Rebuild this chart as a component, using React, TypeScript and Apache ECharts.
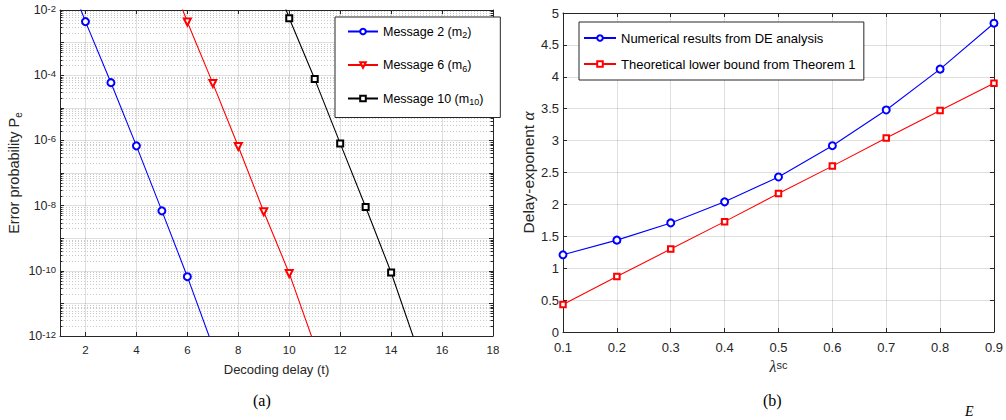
import React, { useEffect, useRef } from 'react';
import * as echarts from 'echarts';

// ---- Panel (a): error probability vs decoding delay ----
const delaysM2 = [1, 2, 3, 4, 5, 6, 7];
const peM2 = [4.4e-1, 4.4e-3, 5.9e-5, 6.8e-7, 6.9e-9, 6.6e-11, 4.8e-13];
const delaysM6 = [5, 6, 7, 8, 9, 10, 11];
const peM6 = [4.8e-1, 4.3e-3, 5.6e-5, 6.5e-7, 6.5e-9, 8.3e-11, 5.2e-13];
const delaysM10 = [9, 10, 11, 12, 13, 14, 15];
const peM10 = [7e-1, 5.6e-3, 7.6e-5, 8.1e-7, 9.1e-9, 8.9e-11, 4.8e-13];
const delayTicks = [2, 4, 6, 8, 10, 12, 14, 16, 18];
const decadeExponents = [-12, -11, -10, -9, -8, -7, -6, -5, -4, -3];
const minorMantissas = [2, 3, 4, 5, 6, 7, 8, 9];
const legendA = ['Message 2 (m2)', 'Message 6 (m6)', 'Message 10 (m10)'];
const legendASub = ['2', '6', '10'];
const legendAMain = ['Message 2 (m', 'Message 6 (m', 'Message 10 (m'];

// ---- Panel (b): delay exponent vs lambda^sc ----
const lambdaSC = [0.1, 0.2, 0.3, 0.4, 0.5, 0.6, 0.7, 0.8, 0.9];
const alphaDE = [1.21, 1.44, 1.71, 2.04, 2.43, 2.92, 3.48, 4.12, 4.84];
const alphaLB = [0.43, 0.87, 1.3, 1.73, 2.17, 2.6, 3.04, 3.47, 3.9];
const legendB = ['Numerical results from DE analysis', 'Theoretical lower bound from Theorem 1'];

const SANS = '"Liberation Sans", Arial, Helvetica, sans-serif';
const SERIF = '"Liberation Serif", "Times New Roman", serif';
const AX = '#262626';
const GRID = 'rgba(38,38,38,0.15)';
const MINOR = 'rgba(38,38,38,0.25)';

function pairs(xs: number[], ys: number[]) {
  return xs.map((x, i) => [x, ys[i]]);
}

export default function App() {
  const ref = useRef<HTMLDivElement>(null);
  useEffect(() => {
    if (!ref.current) return;
    const chart = echarts.init(ref.current, undefined, { renderer: 'svg' });

    const minorVals: number[] = [];
    decadeExponents.forEach((k) => minorMantissas.forEach((m) => minorVals.push(m * Math.pow(10, k))));

    const supRich = {
      b: { fontSize: 12.5, fontFamily: SANS, color: AX, lineHeight: 13, verticalAlign: 'bottom' },
      s: { fontSize: 9.5, fontFamily: SANS, color: AX, lineHeight: 9, verticalAlign: 'top', padding: [0, 0, 8, 0] },
    };
    const subRich = {
      n: { fontSize: 12.5, fontFamily: SANS, color: '#000', lineHeight: 16 },
      u: { fontSize: 9, fontFamily: SANS, color: '#000', lineHeight: 9, verticalAlign: 'bottom' },
    };

    const lineA = (name: string, xs: number[], ys: number[], color: string, symbol: string, size: number, rot = 0) => ({
      type: 'line',
      name,
      xAxisIndex: 0,
      yAxisIndex: 0,
      data: pairs(xs, ys),
      symbol,
      symbolSize: size,
      symbolRotate: rot,
      lineStyle: { color, width: 1.1 },
      itemStyle: { color, borderColor: color, borderWidth: 1 },
      clip: true,
      z: 3,
    });

    const minorGridSeries = {
      type: 'custom',
      name: 'minor-grid',
      xAxisIndex: 0,
      yAxisIndex: 0,
      silent: true,
      z: 1,
      data: minorVals.map((v) => [1, v]),
      encode: { x: 0, y: 1 },
      renderItem: (params: any, api: any) => {
        const cs = params.coordSys;
        const y = Math.round(api.coord([api.value(0), api.value(1)])[1]) + 0.5;
        return {
          type: 'group',
          children: [
            { type: 'line', shape: { x1: cs.x, y1: y, x2: cs.x + cs.width, y2: y }, style: { stroke: MINOR, lineDash: [1, 2], lineWidth: 1 } },
            { type: 'line', shape: { x1: cs.x, y1: y, x2: cs.x + 2.5, y2: y }, style: { stroke: AX, lineWidth: 1 } },
            { type: 'line', shape: { x1: cs.x + cs.width - 2.5, y1: y, x2: cs.x + cs.width, y2: y }, style: { stroke: AX, lineWidth: 1 } },
          ],
        };
      },
    };

    const option: any = {
      animation: false,
      backgroundColor: '#fff',
      grid: [
        { left: 60, top: 10, width: 433, height: 326 },
        { left: 563, top: 13, width: 435, height: 319 },
      ],
      xAxis: [
        {
          gridIndex: 0, type: 'value', min: 1, max: 18, position: 'bottom',
          axisLine: { onZero: false, lineStyle: { color: AX, width: 1 } },
          axisTick: { inside: true, length: 4, customValues: delayTicks, lineStyle: { color: AX } },
          axisLabel: { customValues: delayTicks, fontSize: 11.5, fontFamily: SANS, color: AX, margin: 8 },
          splitLine: { show: true, lineStyle: { color: GRID, width: 1 } },
          name: 'Decoding delay (t)', nameLocation: 'middle', nameGap: 27,
          nameTextStyle: { fontSize: 13, fontFamily: SANS, color: AX },
        },
        {
          gridIndex: 0, type: 'value', min: 1, max: 18, position: 'top',
          axisLine: { onZero: false, lineStyle: { color: AX, width: 1 } },
          axisTick: { inside: true, length: 4, customValues: delayTicks, lineStyle: { color: AX } },
          axisLabel: { show: false }, splitLine: { show: false },
        },
        {
          gridIndex: 1, type: 'value', min: 0.1, max: 0.9, interval: 0.1, position: 'bottom',
          axisLine: { onZero: false, lineStyle: { color: AX, width: 1 } },
          axisTick: { inside: true, length: 4, lineStyle: { color: AX } },
          axisLabel: { fontSize: 13, fontFamily: SANS, color: AX, margin: 9, formatter: (v: number) => v.toFixed(1) },
          splitLine: { show: true, lineStyle: { color: GRID, width: 1 } },
          name: '{l|λ}{s|sc}', nameLocation: 'middle', nameGap: 23,
          nameTextStyle: {
            rich: {
              l: { fontSize: 16, fontFamily: SERIF, fontStyle: 'italic', color: AX, lineHeight: 15, verticalAlign: 'bottom' },
              s: { fontSize: 11, fontFamily: SANS, color: AX, lineHeight: 11, verticalAlign: 'top', padding: [0, 0, 6, 0] },
            },
          },
        },
        {
          gridIndex: 1, type: 'value', min: 0.1, max: 0.9, interval: 0.1, position: 'top',
          axisLine: { onZero: false, lineStyle: { color: AX, width: 1 } },
          axisTick: { inside: true, length: 4, lineStyle: { color: AX } },
          axisLabel: { show: false }, splitLine: { show: false },
        },
      ],
      yAxis: [
        {
          gridIndex: 0, type: 'log', logBase: 10, min: 1e-12, max: 1e-2, interval: 1, position: 'left',
          axisLine: { onZero: false, lineStyle: { color: AX, width: 1 } },
          axisTick: { inside: true, length: 4, lineStyle: { color: AX } },
          axisLabel: {
            margin: 4, color: AX,
            formatter: (v: number) => {
              const e = Math.round(Math.log10(v));
              return e % 2 === 0 ? `{b|10}{s|${e}}` : '';
            },
            rich: supRich,
          },
          splitLine: { show: true, lineStyle: { color: GRID, width: 1 } },
          name: '{n|Error probability P}{u|e}', nameLocation: 'middle', nameGap: 37,
          nameTextStyle: {
            rich: {
              n: { fontSize: 14.5, fontFamily: SANS, color: AX, lineHeight: 18 },
              u: { fontSize: 10, fontFamily: SANS, color: AX, lineHeight: 10, verticalAlign: 'bottom' },
            },
          },
        },
        {
          gridIndex: 0, type: 'log', logBase: 10, min: 1e-12, max: 1e-2, interval: 1, position: 'right',
          axisLine: { onZero: false, lineStyle: { color: AX, width: 1 } },
          axisTick: { inside: true, length: 4, lineStyle: { color: AX } },
          axisLabel: { show: false }, splitLine: { show: false },
        },
        {
          gridIndex: 1, type: 'value', min: 0, max: 5, interval: 0.5, position: 'left',
          axisLine: { onZero: false, lineStyle: { color: AX, width: 1 } },
          axisTick: { inside: true, length: 4, lineStyle: { color: AX } },
          axisLabel: { fontSize: 13, fontFamily: SANS, color: AX, margin: 4 },
          splitLine: { show: true, lineStyle: { color: GRID, width: 1 } },
          name: '{t|Delay-exponent }{a|α}', nameLocation: 'middle', nameGap: 24,
          nameTextStyle: {
            rich: {
              t: { fontSize: 15.5, fontFamily: SANS, color: AX, lineHeight: 18 },
              a: { fontSize: 17, fontFamily: SERIF, fontStyle: 'italic', color: AX, lineHeight: 18 },
            },
          },
        },
        {
          gridIndex: 1, type: 'value', min: 0, max: 5, interval: 0.5, position: 'right',
          axisLine: { onZero: false, lineStyle: { color: AX, width: 1 } },
          axisTick: { inside: true, length: 4, lineStyle: { color: AX } },
          axisLabel: { show: false }, splitLine: { show: false },
        },
      ],
      legend: [
        {
          data: legendA, orient: 'vertical', left: 335, top: 17,
          padding: [8, 17, 11, 12], itemGap: 19, itemWidth: 30, itemHeight: 7,
          borderColor: AX, borderWidth: 1, backgroundColor: '#fff',
          textStyle: { fontSize: 12.5, fontFamily: SANS, color: '#000', rich: subRich },
          formatter: (name: string) => {
            const i = legendA.indexOf(name);
            return `{n|${legendAMain[i]}}{u|${legendASub[i]}}{n|)}`;
          },
        },
        {
          data: legendB, orient: 'vertical', left: 579, top: 22,
          padding: [8, 8, 8, 4], itemGap: 10, itemWidth: 32, itemHeight: 7,
          borderColor: AX, borderWidth: 1, backgroundColor: '#fff',
          textStyle: { fontSize: 13, fontFamily: SANS, color: '#000', lineHeight: 16 },
        },
      ],
      series: [
        minorGridSeries,
        lineA(legendA[0], delaysM2, peM2, '#0000ff', 'emptyCircle', 7),
        lineA(legendA[1], delaysM6, peM6, '#ff0000', 'emptyTriangle', 7, 180),
        lineA(legendA[2], delaysM10, peM10, '#000000', 'emptyRect', 6),
        {
          type: 'line', name: legendB[0], xAxisIndex: 2, yAxisIndex: 2,
          data: pairs(lambdaSC, alphaDE), symbol: 'emptyCircle', symbolSize: 7,
          lineStyle: { color: '#0000ff', width: 1.1 },
          itemStyle: { color: '#0000ff', borderColor: '#0000ff', borderWidth: 1.2 },
        },
        {
          type: 'line', name: legendB[1], xAxisIndex: 2, yAxisIndex: 2,
          data: pairs(lambdaSC, alphaLB), symbol: 'emptyRect', symbolSize: 5.5,
          lineStyle: { color: '#ff0000', width: 1.1 },
          itemStyle: { color: '#ff0000', borderColor: '#ff0000', borderWidth: 1.2 },
        },
      ],
      graphic: [
        { type: 'text', left: 253, top: 392, style: { text: '(a)', font: `16px ${SERIF}`, fill: '#000' } },
        { type: 'text', left: 763, top: 392, style: { text: '(b)', font: `16px ${SERIF}`, fill: '#000' } },
        { type: 'text', left: 965, top: 404, style: { text: 'E', font: `italic 14px ${SERIF}`, fill: '#000' } },
      ],
    };

    chart.setOption(option);
    return () => chart.dispose();
  }, []);

  return (
    <div
      ref={ref}
      style={{ position: 'absolute', left: 0, top: 0, width: 1006, height: 420, background: '#fff' }}
    />
  );
}
